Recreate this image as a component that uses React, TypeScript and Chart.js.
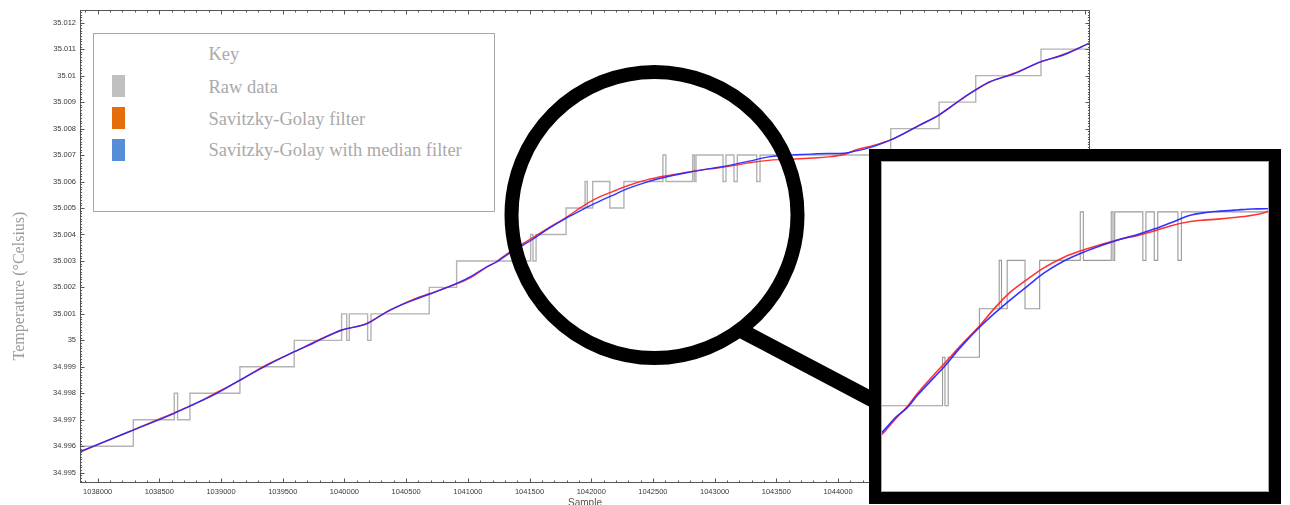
import React, { useEffect, useRef } from "react";
import { Chart, registerables } from "chart.js";

Chart.register(...registerables);

// ---------- data ----------
const RAW_SAMPLE = [
  1037800, 1038289, 1038621, 1038648, 1038748, 1039153, 1039593, 1039977, 1040018, 1040039,
  1040188, 1040215, 1040687, 1040909, 1041509, 1041528, 1041553, 1041796, 1041950, 1041968,
  1042012, 1042151, 1042265, 1042581, 1042605, 1042822, 1042836, 1042849, 1043068, 1043092,
  1043157, 1043184, 1043341, 1043368, 1044427, 1044819, 1045116, 1045645, 1046100,
];
const RAW_TEMP = [
  34.996, 34.997, 34.998, 34.997, 34.998, 34.999, 35.0, 35.001, 35.0, 35.001,
  35.0, 35.001, 35.002, 35.003, 35.004, 35.003, 35.004, 35.005, 35.006, 35.005,
  35.006, 35.005, 35.006, 35.007, 35.006, 35.007, 35.006, 35.007, 35.006, 35.007,
  35.006, 35.007, 35.006, 35.007, 35.008, 35.009, 35.01, 35.011, 35.011,
];

const CURVE_SAMPLE = [
  1037857, 1037992, 1038289, 1038621, 1038748, 1038937, 1039153, 1039342, 1039593, 1039747,
  1039977, 1040180, 1040342, 1040558, 1040687, 1040909, 1041030, 1041153, 1041230, 1041315,
  1041449, 1041520, 1041650, 1041801, 1041920, 1042034, 1042179, 1042294, 1042450, 1042600,
  1042762, 1042900, 1043022, 1043150, 1043281, 1043437, 1043541, 1043650, 1043801, 1043920,
  1044050, 1044150, 1044259, 1044427, 1044664, 1044818, 1044988, 1045116, 1045231, 1045420,
  1045645, 1045826, 1046042,
];
const SG_MEDIAN_TEMP = [
  34.9958, 34.99605, 34.99661, 34.99724, 34.99752, 34.99793, 34.9985, 34.99898, 34.99957, 34.99989,
  35.00039, 35.00062, 35.00108, 35.00152, 35.00174, 35.00215, 35.00243, 35.00278, 35.00295, 35.00322,
  35.0036, 35.0038, 35.00421, 35.00463, 35.00492, 35.00518, 35.00549, 35.00573, 35.00598, 35.00616,
  35.00632, 35.00644, 35.00653, 35.00664, 35.00677, 35.00693, 35.00698, 35.00701, 35.00704, 35.00706,
  35.00707, 35.00716, 35.00728, 35.00757, 35.00814, 35.00851, 35.00908, 35.00946, 35.00977, 35.01006,
  35.01053, 35.01078, 35.01124,
];
const SG_TEMP = [
  34.99578, 34.99604, 34.99662, 34.99726, 34.99751, 34.99796, 34.99849, 34.99901, 34.99956, 34.99992,
  35.00038, 35.00064, 35.00107, 35.00155, 35.00176, 35.00213, 35.00239, 35.00276, 35.00297, 35.00326,
  35.00366, 35.00386, 35.00424, 35.00466, 35.00503, 35.00534, 35.00563, 35.00584, 35.00606, 35.00621,
  35.00634, 35.00644, 35.00651, 35.0066, 35.00671, 35.0068, 35.00683, 35.00685, 35.00689, 35.00693,
  35.00702, 35.0072, 35.00733, 35.00757, 35.00813, 35.00852, 35.00906, 35.00947, 35.00976, 35.01008,
  35.01052, 35.0108, 35.01124,
];

const X_TICKS = [
  1038000, 1038500, 1039000, 1039500, 1040000, 1040500, 1041000, 1041500, 1042000, 1042500,
  1043000, 1043500, 1044000, 1044500, 1045000, 1045500, 1046000,
];
const Y_TICKS = [
  34.995, 34.996, 34.997, 34.998, 34.999, 35.0, 35.001, 35.002, 35.003, 35.004,
  35.005, 35.006, 35.007, 35.008, 35.009, 35.01, 35.011, 35.012,
];

const MAIN_X_RANGE = [1037857, 1046042];
const MAIN_Y_RANGE = [34.99461, 35.01248];
const INSET_X_RANGE = [1041030, 1044050];
const INSET_Y_RANGE = [35.00122, 35.00805];

const LEGEND_TITLE = "Key";
const LEGEND_LABELS = ["Raw data", "Savitzky-Golay filter", "Savitzky-Golay with median filter"];
const LEGEND_COLORS = ["#c0c0c0", "#e46c0a", "#558ed5"];

const X_TITLE = "Sample";
const Y_TITLE = "Temperature (\u00b0Celsius)";

const BLUE = "rgba(40,40,255,0.95)";
const RED = "rgba(255,40,40,0.95)";

// ---------- helpers ----------
function toPoints(xs: number[], ys: number[]) {
  return xs.map((x, i) => ({ x, y: ys[i] }));
}

function makeDatasets(lineW: number, rawW: number, rawColor: string) {
  return [
    {
      label: LEGEND_LABELS[2],
      data: toPoints(CURVE_SAMPLE, SG_MEDIAN_TEMP),
      borderColor: BLUE,
      borderWidth: lineW,
      pointRadius: 0,
      cubicInterpolationMode: "monotone" as const,
      order: 0,
    },
    {
      label: LEGEND_LABELS[1],
      data: toPoints(CURVE_SAMPLE, SG_TEMP),
      borderColor: RED,
      borderWidth: lineW,
      pointRadius: 0,
      cubicInterpolationMode: "monotone" as const,
      order: 1,
    },
    {
      label: LEGEND_LABELS[0],
      data: toPoints(RAW_SAMPLE, RAW_TEMP),
      borderColor: rawColor,
      borderWidth: rawW,
      pointRadius: 0,
      stepped: true,
      order: 2,
    },
  ];
}

const TICK_FONT = { family: "'Liberation Sans', Arial, sans-serif", size: 7.5 };
const TICK_COLOR = "#3d3833";

const mainFramePlugin = {
  id: "mainFrame",
  afterDatasetsDraw(chart: any) {
    const { ctx, chartArea: a, scales } = chart;
    const xs = scales.x;
    const ys = scales.y;
    ctx.save();
    ctx.strokeStyle = "#555";
    ctx.lineWidth = 1;
    const L = Math.round(a.left) + 0.5;
    const R = Math.round(a.right) - 0.5;
    const T = Math.round(a.top) + 0.5;
    const B = Math.round(a.bottom) - 0.5;
    ctx.strokeRect(L, T, R - L, B - T);
    const seg = (x1: number, y1: number, x2: number, y2: number) => {
      ctx.beginPath();
      ctx.moveTo(x1, y1);
      ctx.lineTo(x2, y2);
      ctx.stroke();
    };
    // x ticks, 5 subdivisions
    const xStep = X_TICKS[1] - X_TICKS[0];
    for (let k = -5; k <= (X_TICKS.length - 1) * 5 + 5; k++) {
      const v = X_TICKS[0] + (k * xStep) / 5;
      if (v < xs.min || v > xs.max) continue;
      const px = Math.round(xs.getPixelForValue(v)) + 0.5;
      const len = k % 5 === 0 ? 4 : 2;
      seg(px, B, px, B - len);
      seg(px, T, px, T + len);
    }
    // y ticks, 10 subdivisions
    const yStep = Y_TICKS[1] - Y_TICKS[0];
    for (let k = -10; k <= (Y_TICKS.length - 1) * 10 + 10; k++) {
      const v = Y_TICKS[0] + (k * yStep) / 10;
      if (v < ys.min || v > ys.max) continue;
      const py = Math.round(ys.getPixelForValue(v)) + 0.5;
      const len = k % 10 === 0 ? 4 : 1.6;
      seg(L, py, L + len, py);
      seg(R, py, R - len, py);
    }
    // titles
    ctx.fillStyle = "#5a524a";
    ctx.font = "10px 'Liberation Sans', Arial, sans-serif";
    ctx.textAlign = "center";
    ctx.textBaseline = "top";
    ctx.fillText(X_TITLE, (a.left + a.right) / 2, a.bottom + 15);

    ctx.save();
    ctx.translate(19.5, 286);
    ctx.rotate(-Math.PI / 2);
    ctx.fillStyle = "#9a9a9a";
    ctx.font = "16px 'Liberation Serif', 'Times New Roman', serif";
    ctx.textAlign = "center";
    ctx.textBaseline = "middle";
    ctx.fillText(Y_TITLE, 0, 0);
    ctx.restore();
    ctx.restore();
  },
};

const insetFramePlugin = {
  id: "insetFrame",
  afterDatasetsDraw(chart: any) {
    const { ctx, chartArea: a } = chart;
    ctx.save();
    ctx.strokeStyle = "#aaa";
    ctx.lineWidth = 1;
    ctx.strokeRect(a.left + 0.5, a.top + 0.5, a.right - a.left - 1, a.bottom - a.top - 1);
    ctx.restore();
  },
};

export default function App() {
  const mainRef = useRef<HTMLCanvasElement>(null);
  const insetRef = useRef<HTMLCanvasElement>(null);

  useEffect(() => {
    const main = new Chart(mainRef.current as HTMLCanvasElement, {
      type: "line",
      data: { datasets: makeDatasets(1.4, 1.4, "#b3b3b3") as any },
      options: {
        responsive: false,
        animation: false,
        devicePixelRatio: 1,
        parsing: true,
        layout: { padding: { top: 10, right: 200, left: 0, bottom: 0 } },
        plugins: { legend: { display: false }, tooltip: { enabled: false } },
        scales: {
          x: {
            type: "linear",
            min: MAIN_X_RANGE[0],
            max: MAIN_X_RANGE[1],
            afterBuildTicks: (s: any) => {
              s.ticks = X_TICKS.map((v) => ({ value: v }));
            },
            afterFit: (s: any) => {
              s.height = 22;
            },
            grid: { display: false, drawTicks: false },
            border: { display: false },
            ticks: {
              autoSkip: false,
              maxRotation: 0,
              padding: 4,
              font: TICK_FONT,
              color: TICK_COLOR,
              callback: (v: any) => String(v),
            },
          },
          y: {
            type: "linear",
            min: MAIN_Y_RANGE[0],
            max: MAIN_Y_RANGE[1],
            afterBuildTicks: (s: any) => {
              s.ticks = Y_TICKS.map((v) => ({ value: v }));
            },
            afterFit: (s: any) => {
              s.width = 80;
            },
            grid: { display: false, drawTicks: false },
            border: { display: false },
            ticks: {
              autoSkip: false,
              padding: 4,
              font: TICK_FONT,
              color: TICK_COLOR,
              callback: (v: any) => String(parseFloat(Number(v).toFixed(3))),
            },
          },
        },
      },
      plugins: [mainFramePlugin],
    });

    const inset = new Chart(insetRef.current as HTMLCanvasElement, {
      type: "line",
      data: { datasets: makeDatasets(1.6, 1.1, "#9a9a9a") as any },
      options: {
        responsive: false,
        animation: false,
        devicePixelRatio: 1,
        layout: { padding: 0 },
        plugins: { legend: { display: false }, tooltip: { enabled: false } },
        scales: {
          x: { type: "linear", display: false, min: INSET_X_RANGE[0], max: INSET_X_RANGE[1] },
          y: { type: "linear", display: false, min: INSET_Y_RANGE[0], max: INSET_Y_RANGE[1] },
        },
      },
      plugins: [insetFramePlugin],
    });

    return () => {
      main.destroy();
      inset.destroy();
    };
  }, []);

  const legendFont = "'Liberation Serif', 'Times New Roman', serif";
  const rowCenters = [52.9, 84.5, 116.2];
  const swatchTops = [41.2, 72.9, 104.5];

  return (
    <div
      style={{
        position: "fixed",
        left: 0,
        top: 0,
        width: 1290,
        height: 505,
        background: "#fff",
        overflow: "hidden",
      }}
    >
      <canvas ref={mainRef} width={1290} height={505} style={{ position: "absolute", left: 0, top: 0 }} />

      {/* legend */}
      <div
        style={{
          position: "absolute",
          left: 92.5,
          top: 33,
          width: 400,
          height: 177,
          border: "1.5px solid #a8a8a8",
          background: "#fff",
          fontFamily: legendFont,
          fontSize: 18.5,
          color: "#a9a9a9",
        }}
      >
        <div style={{ position: "absolute", left: 115, top: 20.2 - 11, lineHeight: "22px", whiteSpace: "nowrap" }}>
          {LEGEND_TITLE}
        </div>
        {LEGEND_LABELS.map((lab, i) => (
          <React.Fragment key={lab}>
            <div
              style={{
                position: "absolute",
                left: 18.5,
                top: swatchTops[i],
                width: 13.3,
                height: 22,
                background: LEGEND_COLORS[i],
              }}
            />
            <div
              style={{
                position: "absolute",
                left: 115,
                top: rowCenters[i] - 11,
                lineHeight: "22px",
                whiteSpace: "nowrap",
              }}
            >
              {lab}
            </div>
          </React.Fragment>
        ))}
      </div>

      {/* magnifier */}
      <svg
        width={1290}
        height={505}
        style={{ position: "absolute", left: 0, top: 0, pointerEvents: "none" }}
      >
        <circle cx={654.5} cy={215} r={143} fill="none" stroke="#000" strokeWidth={14} />
        <line x1={742} y1={331} x2={890} y2={409} stroke="#000" strokeWidth={15} />
      </svg>

      {/* inset */}
      <div
        style={{
          position: "absolute",
          left: 869,
          top: 149,
          width: 388,
          height: 331,
          border: "12px solid #000",
          background: "#fff",
        }}
      >
        <canvas ref={insetRef} width={388} height={331} style={{ display: "block" }} />
      </div>
    </div>
  );
}
